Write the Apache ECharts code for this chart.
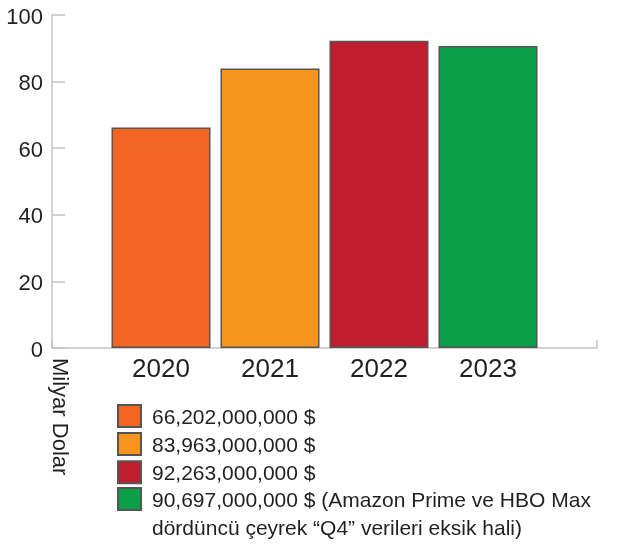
<!DOCTYPE html>
<html>
<head>
<meta charset="utf-8">
<script src="https://cdn.jsdelivr.net/npm/echarts@6/dist/echarts.min.js"></script>
<style>
  html, body { margin: 0; padding: 0; background: #ffffff; }
  #chart { width: 621px; height: 547px; }
</style>
</head>
<body>
<div id="chart"></div>
<script>
// Yearly totals in dollars
const years = ['2020', '2021', '2022', '2023'];
const dollars = [66202000000, 83963000000, 92263000000, 90697000000];
const noteFor2023 = [' (Amazon Prime ve HBO Max', 'dördüncü çeyrek “Q4” verileri eksik hali)'];
const barColors = ['#f26522', '#f7941d', '#be1e2d', '#0c9f4a'];
const yTicks = [0, 20, 40, 60, 80, 100];

const FONT = '"Liberation Sans", Arial, sans-serif';
const INK = '#231f20';

// bar heights in billions of dollars
const billions = dollars.map(d => d / 1e9);
// category axis padded with an empty slot on both ends
const axisCats = [''].concat(years, ['']);
const labels = dollars.map(d => d.toLocaleString('en-US') + ' $');
// the last entry carries a two-line note
labels[3] = labels[3] + noteFor2023[0] + '\n' + noteFor2023[1];

const series = years.map((y, i) => {
  const data = axisCats.map(c => (c === y ? billions[i] : null));
  return {
    name: labels[i],
    type: 'bar',
    data: data,
    barWidth: 99,
    barGap: '-100%',
    itemStyle: { color: barColors[i], borderColor: '#555555', borderWidth: 1.5 },
    emphasis: { disabled: true }
  };
});

// legend text: a thin spacer line on top nudges the first text line
// slightly below the centre of its swatch
function legendText(name) {
  const lines = name.split('\n');
  const head = lines.length > 1 ? '{s2| }' : '{s1| }';
  return head + '\n' + lines.map(l => '{t|' + l + '}').join('\n');
}
const legendRich = {
  s1: { lineHeight: 4, fontSize: 4 },
  s2: { lineHeight: 32, fontSize: 4 },
  t: { fontSize: 21, color: INK, fontFamily: FONT, lineHeight: 24, padding: [0, 0, 0, 6] }
};
const legendRich2 = {
  s1: legendRich.s1,
  s2: legendRich.s2,
  t: Object.assign({}, legendRich.t, { lineHeight: 28 })
};

const chart = echarts.init(document.getElementById('chart'), null, { renderer: 'canvas' });
chart.setOption({
  animation: false,
  backgroundColor: '#ffffff',
  textStyle: { fontFamily: FONT, color: INK },
  grid: { left: 52, right: 24, top: 15, bottom: 199, containLabel: false },
  xAxis: {
    type: 'category',
    data: axisCats,
    boundaryGap: false,
    axisLine: { lineStyle: { color: '#c4c4c4', width: 1.5 } },
    axisTick: { show: true, inside: true, length: 8, interval: 0, lineStyle: { color: '#c4c4c4', width: 1.5 } },
    axisLabel: { interval: 0, margin: 9, fontSize: 26, color: INK, fontFamily: FONT },
    splitLine: { show: false }
  },
  yAxis: {
    type: 'value',
    min: yTicks[0],
    max: yTicks[yTicks.length - 1],
    interval: yTicks[1] - yTicks[0],
    name: 'Milyar Dolar',
    nameLocation: 'start',
    nameGap: 10,
    nameRotate: -90,
    nameTextStyle: {
      fontSize: 22, color: INK, fontFamily: FONT,
      align: 'left', verticalAlign: 'bottom', lineHeight: 15
    },
    axisLine: { show: true, lineStyle: { color: '#c4c4c4', width: 1.5 } },
    axisTick: { show: true, inside: true, length: 13, lineStyle: { color: '#c4c4c4', width: 1.5 } },
    axisLabel: { margin: 9, fontSize: 22, color: INK, fontFamily: FONT, verticalAlign: 'top', lineHeight: 5 },
    splitLine: { show: false }
  },
  legend: [
    {
      data: labels.slice(0, 3),
      orient: 'vertical',
      left: 117,
      top: 402,
      padding: 0,
      itemGap: 1.6,
      itemWidth: 23,
      itemHeight: 22,
      icon: 'rect',
      selectedMode: false,
      formatter: legendText,
      textStyle: { fontSize: 21, color: INK, fontFamily: FONT, rich: legendRich }
    },
    {
      data: labels.slice(3),
      orient: 'vertical',
      left: 117,
      top: 469,
      padding: 0,
      itemWidth: 23,
      itemHeight: 22,
      icon: 'rect',
      selectedMode: false,
      formatter: legendText,
      textStyle: { fontSize: 21, color: INK, fontFamily: FONT, rich: legendRich2 }
    }
  ],
  series: series
});
</script>
</body>
</html>
